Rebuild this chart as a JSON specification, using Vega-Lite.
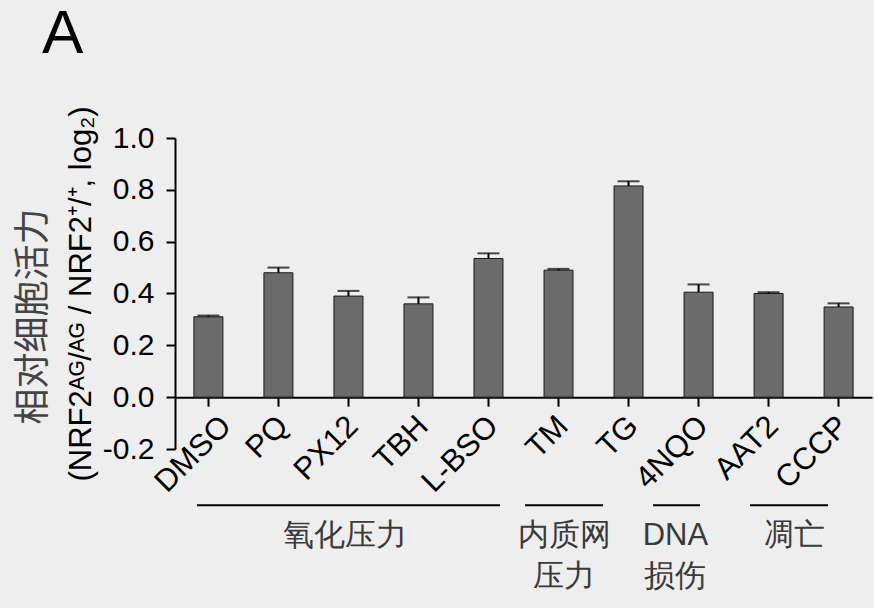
{
  "$schema": "https://vega.github.io/schema/vega-lite/v6.json",
  "width": 697,
  "height": 311,
  "autosize": "none",
  "padding": {"left": 175, "top": 138, "right": 2, "bottom": 159},
  "background": "#eeeeee",
  "config": {
    "view": {"stroke": null},
    "font": "Liberation Sans",
    "axis": {"grid": false}
  },
  "title": {
    "text": "A",
    "anchor": "start",
    "frame": "group",
    "font": "Liberation Sans",
    "fontSize": 62,
    "fontWeight": "normal",
    "color": "#000000",
    "baseline": "alphabetic",
    "dx": -133,
    "offset": -9
  },
  "datasets": {
    "cells": [
      {"agent": "DMSO", "value": 0.31, "upper": 0.315},
      {"agent": "PQ", "value": 0.48, "upper": 0.50},
      {"agent": "PX12", "value": 0.39, "upper": 0.41},
      {"agent": "TBH", "value": 0.36, "upper": 0.385},
      {"agent": "L-BSO", "value": 0.535, "upper": 0.555},
      {"agent": "TM", "value": 0.49, "upper": 0.495},
      {"agent": "TG", "value": 0.815, "upper": 0.833},
      {"agent": "4NQO", "value": 0.405, "upper": 0.435},
      {"agent": "AAT2", "value": 0.40, "upper": 0.405},
      {"agent": "CCCP", "value": 0.348, "upper": 0.362}
    ],
    "groups": [
      {"label": "氧化压力", "from": -0.163, "to": 4.164, "mid": 1.95},
      {"label": "内质网\n压力", "from": 4.522, "to": 5.636, "mid": 5.08},
      {"label": "DNA\n损伤", "from": 6.35, "to": 7.021, "mid": 6.67},
      {"label": "凋亡", "from": 7.735, "to": 8.849, "mid": 8.36}
    ]
  },
  "layer": [
    {
      "data": {"name": "cells"},
      "encoding": {
        "x": {
          "field": "agent",
          "type": "nominal",
          "sort": null,
          "scale": {"paddingInner": 0.586, "paddingOuter": 0.27},
          "axis": {
            "title": null,
            "offset": -51.83,
            "domainColor": "#000000",
            "domainWidth": 2,
            "tickColor": "#000000",
            "tickWidth": 2,
            "tickSize": 9,
            "labelAngle": -45,
            "labelAlign": "right",
            "labelBaseline": "middle",
            "labelFont": "Liberation Sans",
            "labelFontSize": 31,
            "labelColor": "#000000",
            "labelPadding": 15,
            "labelOffset": {"condition": {"test": "datum.value === 'DMSO'", "value": 18}, "value": 5},
            "labelOverlap": false,
            "labelFlush": false
          }
        },
        "y": {
          "field": "value",
          "type": "quantitative",
          "scale": {"domain": [-0.2, 1.0], "nice": false, "zero": false},
          "axis": {
            "orient": "left",
            "values": [-0.2, 0, 0.2, 0.4, 0.6, 0.8, 1.0],
            "labelExpr": "datum.value < 0 ? '-' + format(-datum.value, '.1f') : format(datum.value, '.1f')",
            "labelFont": "Liberation Sans",
            "labelFontSize": 30,
            "labelColor": "#000000",
            "labelPadding": 12,
            "domainColor": "#000000",
            "domainWidth": 2,
            "tickColor": "#000000",
            "tickWidth": 2,
            "tickSize": 9,
            "title": "(NRF2ᴬᴳ/ᴬᴳ / NRF2⁺/⁺, log₂)",
            "titleFont": "Liberation Sans",
            "titleFontSize": 31,
            "titleFontWeight": "normal",
            "titleColor": "#000000",
            "titlePadding": 5
          }
        }
      },
      "layer": [
        {
          "mark": {"type": "bar", "fill": "#6b6b6b", "stroke": "#1a1a1a", "strokeWidth": 1},
          "encoding": {
            "y2": {"datum": 0}
          }
        },
        {
          "mark": {"type": "rule", "color": "#000000", "strokeWidth": 2},
          "encoding": {
            "y2": {"field": "upper"}
          }
        },
        {
          "mark": {"type": "tick", "orient": "horizontal", "color": "#000000", "size": 22, "thickness": 2},
          "encoding": {
            "y": {"field": "upper", "type": "quantitative"}
          }
        }
      ]
    },
    {
      "data": {"name": "groups"},
      "encoding": {
        "y": {
          "datum": -0.417,
          "type": "quantitative",
          "axis": {
            "orient": "left",
            "labels": false,
            "ticks": false,
            "domain": false,
            "title": "相对细胞活力",
            "titleFont": "Noto Sans CJK SC",
            "titleFontSize": 36,
            "titleFontWeight": "normal",
            "titleColor": "#444444",
            "titlePadding": 123,
            "titleY": 178
          }
        }
      },
      "layer": [
        {
          "mark": {"type": "rule", "color": "#000000", "strokeWidth": 2},
          "encoding": {
            "x": {
              "field": "from",
              "type": "quantitative",
              "scale": {"domain": [-0.477, 9.477], "nice": false, "zero": false},
              "axis": null
            },
            "x2": {"field": "to"}
          }
        },
        {
          "mark": {
            "type": "text",
            "font": "Liberation Sans",
            "fontSize": 31,
            "color": "#3a3a3a",
            "align": "center",
            "baseline": "top",
            "lineBreak": "\n",
            "lineHeight": 41,
            "dy": 16
          },
          "encoding": {
            "x": {"field": "mid", "type": "quantitative", "axis": null},
            "text": {"field": "label"}
          }
        }
      ]
    }
  ],
  "resolve": {
    "scale": {"x": "independent"},
    "axis": {"x": "independent", "y": "independent"}
  }
}
